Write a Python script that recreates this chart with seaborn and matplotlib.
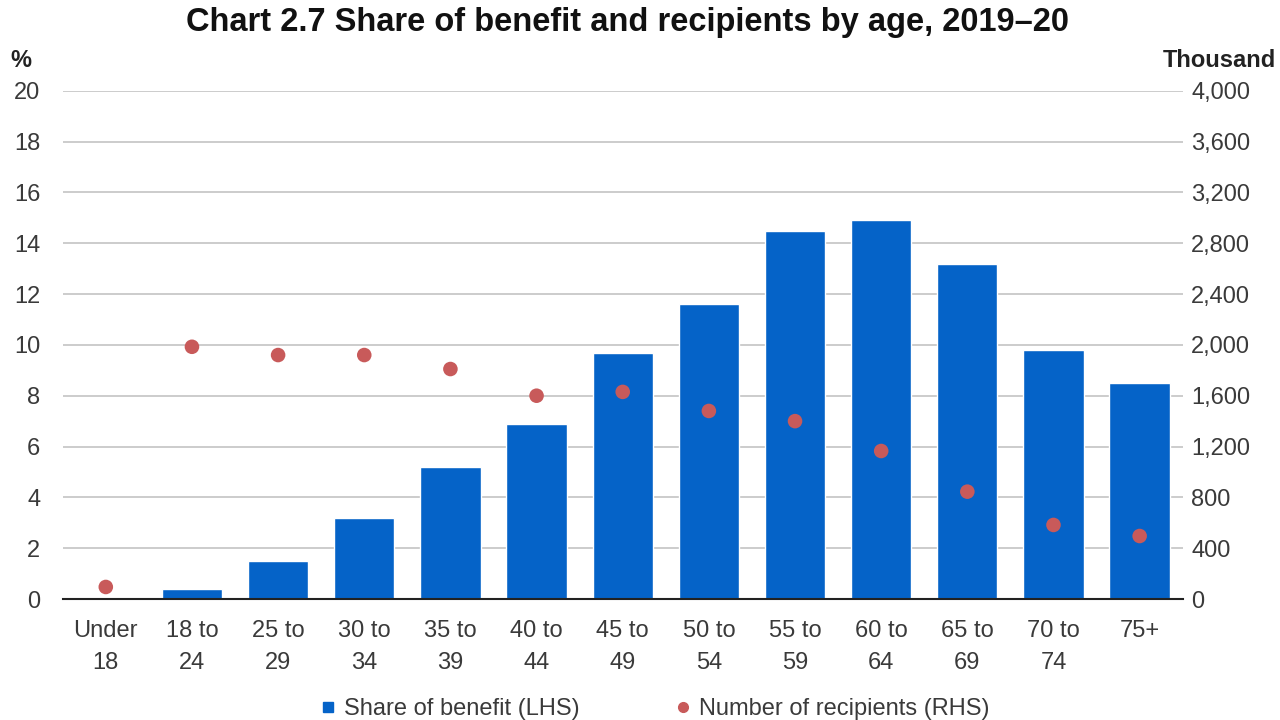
import matplotlib
matplotlib.use("Agg")
import matplotlib.pyplot as plt
from matplotlib.lines import Line2D
from matplotlib.ticker import FixedLocator, FuncFormatter
import seaborn as sns
import pandas as pd
import numpy as np

categories = ["Under\n18", "18 to\n24", "25 to\n29", "30 to\n34", "35 to\n39", "40 to\n44",
              "45 to\n49", "50 to\n54", "55 to\n59", "60 to\n64", "65 to\n69", "70 to\n74", "75+"]
share_of_benefit = [0.0, 0.4, 1.5, 3.2, 5.2, 6.9, 9.7, 11.6, 14.5, 14.9, 13.2, 9.8, 8.5]
recipients_thousand = [95, 1985, 1920, 1920, 1810, 1600, 1630, 1480, 1400, 1165, 845, 583, 496]
left_ticks = list(range(0, 21, 2))
right_ticks = list(range(0, 4001, 400))

BLUE = "#0563C8"
RED = "#C85A5A"
FS = 17

sns.set_theme(style="white")
plt.rcParams["font.family"] = ["Liberation Sans", "DejaVu Sans"]

df = pd.DataFrame({"age": categories, "share": share_of_benefit, "recip": recipients_thousand})

fig = plt.figure(figsize=(12.8, 7.2), dpi=100)
ax = fig.add_axes([0.049, 0.168, 0.875, 0.706])
sns.barplot(data=df, x="age", y="share", color=BLUE, saturation=1, width=0.7, ax=ax)
ax.set_ylim(0, 20)
ax.set_xlim(-0.5, len(categories) - 0.5)
ax.yaxis.set_major_locator(FixedLocator(left_ticks))
ax.grid(axis="y", color="#C8C8C8", linewidth=1.3)
ax.set_axisbelow(True)
ax.set_xlabel("")
ax.set_ylabel("")
for s in ["top", "right", "left"]:
    ax.spines[s].set_visible(False)
ax.spines["bottom"].set_color("#222222")
ax.spines["bottom"].set_linewidth(1.5)
ax.tick_params(axis="y", length=0, labelsize=FS, colors="#3A3A3A", pad=16)
ax.tick_params(axis="x", which="major", length=0, labelsize=FS, colors="#3A3A3A", pad=15)
for lbl in ax.get_xticklabels():
    lbl.set_linespacing(1.6)
ax.set_xticks(np.arange(-0.5, len(categories), 1), minor=True)
ax.tick_params(axis="x", which="minor", direction="in", length=5, width=1.3, color="#222222")

ax2 = ax.twinx()
sns.scatterplot(data=df, x="age", y="recip", color=RED, s=110, edgecolor="none", ax=ax2, zorder=5)
ax2.set_ylim(0, 4000)
ax2.yaxis.set_major_locator(FixedLocator(right_ticks))
ax2.yaxis.set_major_formatter(FuncFormatter(lambda v, p: f"{int(v):,}"))
ax2.set_ylabel("")
ax2.set_xlabel("")
for s in ["top", "right", "left", "bottom"]:
    ax2.spines[s].set_visible(False)
ax2.tick_params(axis="y", length=0, labelsize=FS, colors="#3A3A3A", pad=6)
ax2.grid(False)

fig.text(0.49, 0.99, "Chart 2.7 Share of benefit and recipients by age, 2019\u201320",
         ha="center", va="top", fontsize=23.5, fontweight="bold", color="#111111")
fig.text(0.008, 0.9, "%", ha="left", va="bottom", fontsize=FS, fontweight="bold", color="#222222")
fig.text(0.997, 0.9, "Thousand", ha="right", va="bottom", fontsize=FS, fontweight="bold", color="#222222")

handles = [Line2D([], [], marker="s", linestyle="none", color=BLUE, markersize=7),
           Line2D([], [], marker="o", linestyle="none", color=RED, markersize=7)]
fig.legend(handles, ["Share of benefit (LHS)", "Number of recipients (RHS)"], loc="lower center",
           bbox_to_anchor=(0.511, -0.03), ncol=2, frameon=False, fontsize=FS, handlelength=0.8,
           handletextpad=0.25, columnspacing=4.0, labelcolor="#3A3A3A")

fig.savefig("out.png", dpi=100)
